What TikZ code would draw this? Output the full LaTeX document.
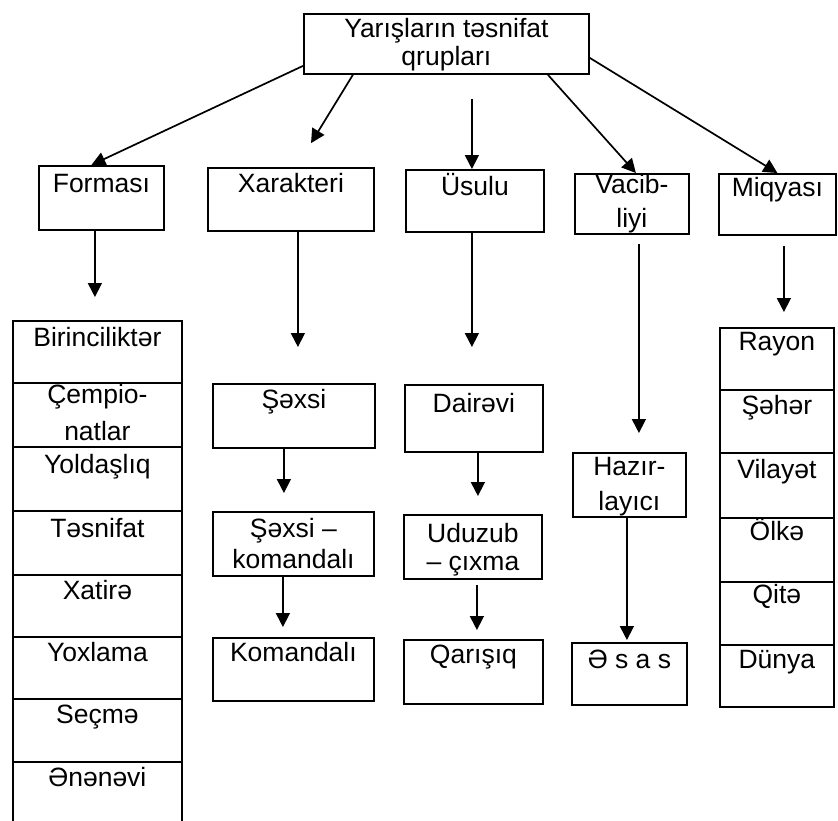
\documentclass[tikz,border=0pt]{standalone}
\usepackage{fontspec}
\setmainfont{Liberation Sans}
\usetikzlibrary{arrows.meta}
% cell text: width, height, first baseline offset, contents (top aligned, centred)
\newcommand\ct[4]{\parbox[c][#2pt][t]{#1pt}{\centering\rule{0pt}{#3pt}#4\par}}
\tikzset{
  cell/.style={draw, line width=1.8pt, anchor=north west, inner sep=0pt},
  arr/.style={line width=1.7pt, -{Triangle[length=14pt,width=14pt]}},
}
\begin{document}
\begin{tikzpicture}[x=1pt, y=-1pt, font=\fontsize{26.5}{31}\selectfont]
\path[use as bounding box, fill=white] (0,0) rectangle (838,820);

% root
\node[cell] (top) at (303,13) {\ct{285}{60}{24}{Yarışların təsnifat\\[-3pt]qrupları}};

% group headers
\node[cell] (forma) at (38,165)  {\ct{125}{64}{27}{Forması}};
\node[cell] (xar)   at (207,167) {\ct{166}{63}{25}{Xarakteri}};
\node[cell] (usulu) at (405,169) {\ct{138}{62}{26}{Üsulu}};
\node[cell] (vacib) at (574,173) {\ct{114}{60}{19}{Vacib-\\[3pt]liyi}};
\node[cell] (miq)   at (718,173) {\ct{117}{61}{23}{Miqyası}};

% form column
\node[cell] (lf1) at (12,320) {\ct{169}{62}{26}{Birinciliktər}};
\node[cell] (lf2) at (12,382) {\ct{169}{64}{21}{Çempio-\\[6pt]natlar}};
\node[cell] (lf3) at (12,446) {\ct{169}{64}{27}{Yoldaşlıq}};
\node[cell] (lf4) at (12,510) {\ct{169}{64}{27}{Təsnifat}};
\node[cell] (lf5) at (12,574) {\ct{169}{62}{25}{Xatirə}};
\node[cell] (lf6) at (12,636) {\ct{169}{62}{25}{Yoxlama}};
\node[cell] (lf7) at (12,698) {\ct{169}{63}{25}{Seçmə}};
\node[cell] (lf8) at (12,761) {\ct{169}{63}{25}{Ənənəvi}};

% character column
\node[cell] (sx1) at (212,383) {\ct{162}{64}{25}{Şəxsi}};
\node[cell] (sx2) at (212,511) {\ct{161}{64}{26}{Şəxsi –\\komandalı}};
\node[cell] (sx3) at (212,637) {\ct{161}{63}{24}{Komandalı}};

% method column
\node[cell] (us1) at (404,384) {\ct{138}{67}{28}{Dairəvi}};
\node[cell] (us2) at (403,514) {\ct{138}{64}{28}{Uduzub\\[-3pt]– çıxma}};
\node[cell] (us3) at (403,639) {\ct{139}{64}{24}{Qarışıq}};

% importance column
\node[cell] (vc1) at (572,452) {\ct{113}{64}{23}{Hazır-\\[4pt]layıcı}};
\node[cell] (vc2) at (571,642) {\ct{115}{62}{26}{Ə s a s}};

% scale column
\node[cell] (rc1) at (719,327) {\ct{114}{62}{23}{Rayon}};
\node[cell] (rc2) at (719,389) {\ct{114}{63}{25}{Şəhər}};
\node[cell] (rc3) at (719,452) {\ct{114}{65}{26}{Vilayət}};
\node[cell] (rc4) at (719,517) {\ct{114}{64}{22}{Ölkə}};
\node[cell] (rc5) at (719,581) {\ct{114}{63}{22}{Qitə}};
\node[cell] (rc6) at (719,644) {\ct{114}{62}{24}{Dünya}};

% root to groups
\draw[arr] ([yshift=-22pt]top.west) -- ([xshift=-10pt]forma.north);
\draw[arr, shorten >=28pt] ([xshift=-93.5pt]top.south) -- ([xshift=5.5pt]xar.north);
\draw[arr, shorten <=24pt] ([xshift=25.5pt]top.south) -- ([xshift=25.5pt]top.south |- usulu.north);
\draw[arr] ([xshift=101.5pt]top.south) -- ([xshift=4pt]vacib.north);
\draw[arr] ([yshift=-14pt]top.east) -- (miq.north);

% groups to their members
\draw[arr, shorten >=23pt] ([xshift=-6.5pt]forma.south) -- ([xshift=-6.5pt]forma.south |- lf1.north);
\draw[arr, shorten >=36pt] ([xshift=7pt]xar.south) -- ([xshift=7pt]xar.south |- sx1.north);
\draw[arr, shorten >=18pt] ([xshift=-10pt]sx1.south) -- ([xshift=-10pt]sx1.south |- sx2.north);
\draw[arr, shorten >=10pt] ([xshift=-10.5pt]sx2.south) -- ([xshift=-10.5pt]sx2.south |- sx3.north);
\draw[arr, shorten >=37pt] ([xshift=-3pt]usulu.south) -- ([xshift=-3pt]usulu.south |- us1.north);
\draw[arr, shorten >=18pt] ([xshift=4pt]us1.south) -- ([xshift=4pt]us1.south |- us2.north);
\draw[arr, shorten <=5pt, shorten >=9pt] ([xshift=4pt]us2.south) -- ([xshift=4pt]us2.south |- us3.north);
\draw[arr, shorten <=9pt, shorten >=19pt] ([xshift=7pt]vacib.south) -- ([xshift=7pt]vacib.south |- vc1.north);
\draw[arr, shorten >=2pt] ([xshift=-2.5pt]vc1.south) -- ([xshift=-2.5pt]vc1.south |- vc2.north);
\draw[arr, shorten <=10pt, shorten >=15pt] ([xshift=6.5pt]miq.south) -- ([xshift=6.5pt]miq.south |- rc1.north);
\end{tikzpicture}
\end{document}
